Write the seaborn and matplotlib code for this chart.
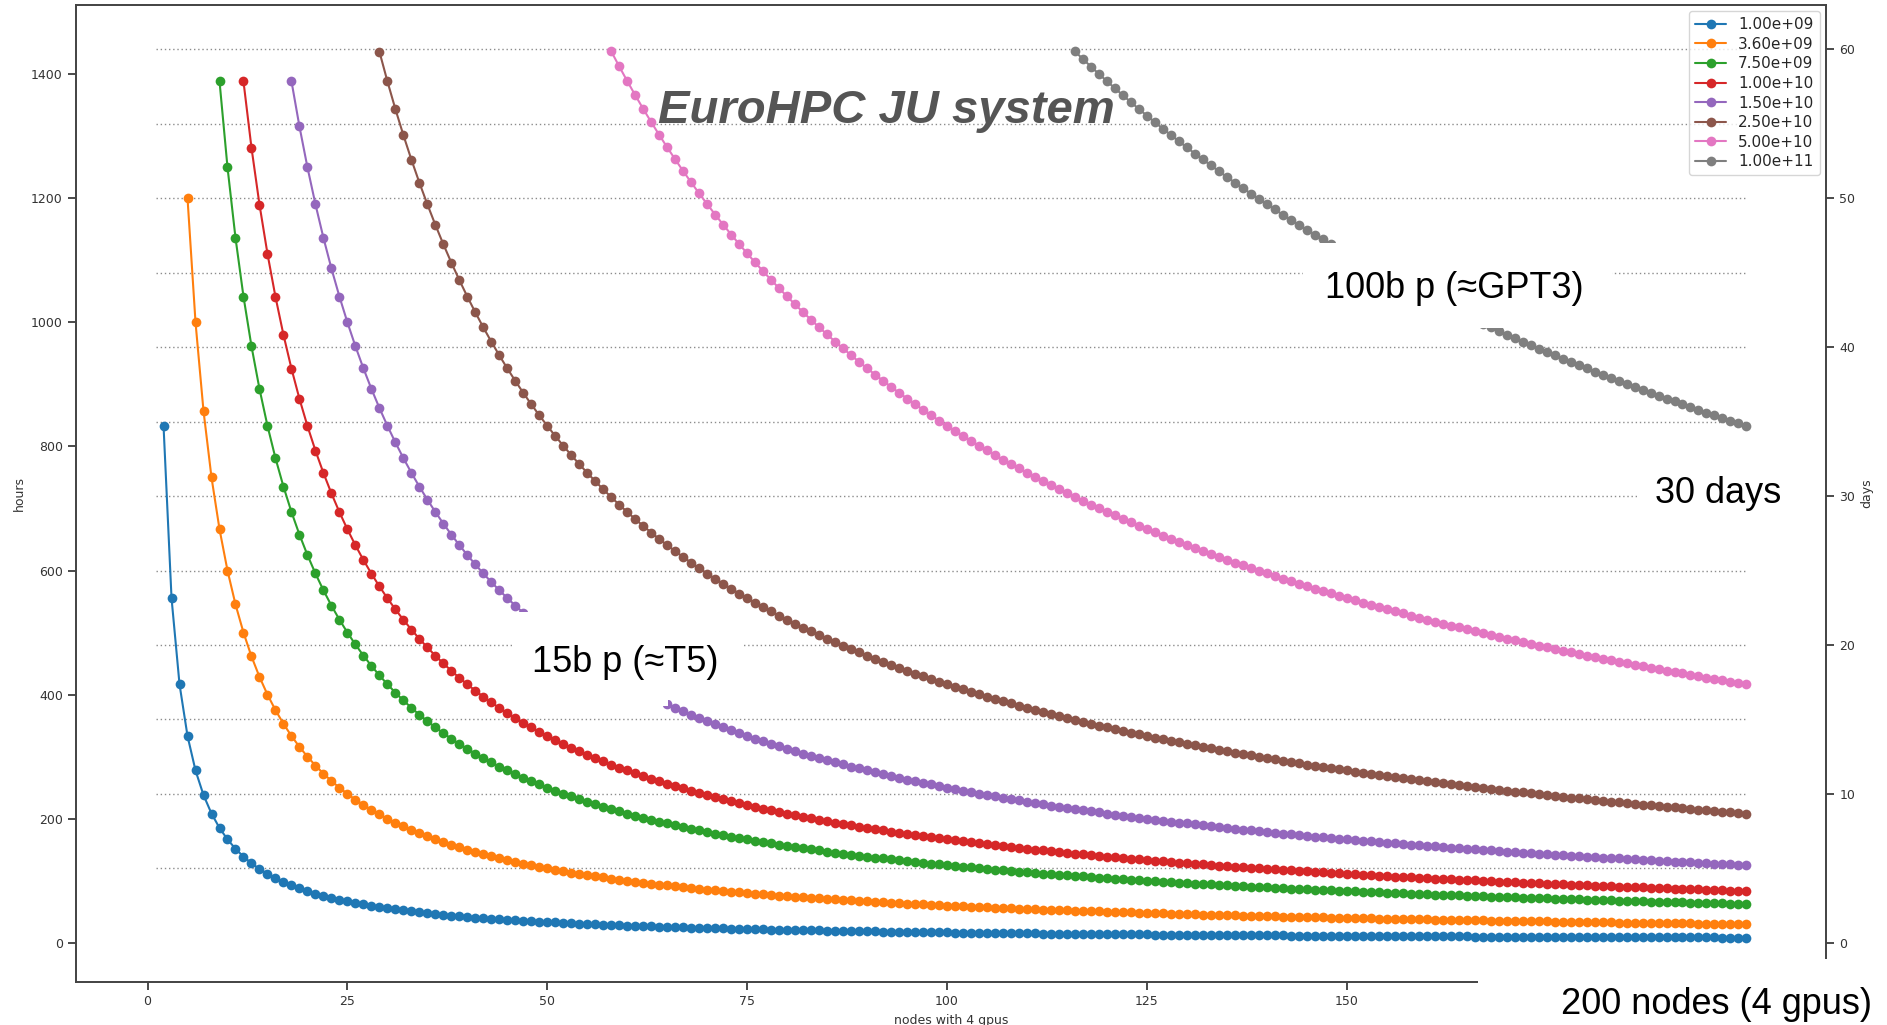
import matplotlib
matplotlib.use("Agg")
import matplotlib.pyplot as plt
from matplotlib.patches import Rectangle
import numpy as np
import pandas as pd
import seaborn as sns

# --- data ---
# model sizes (legend) and training hours read at 200 nodes for each curve
param_labels = ["1.00e+09", "3.60e+09", "7.50e+09", "1.00e+10",
                "1.50e+10", "2.50e+10", "5.00e+10", "1.00e+11"]
hours_at_200_nodes = [8.33, 30.0, 62.5, 83.3, 125.0, 208.3, 416.7, 833.3]
nodes = np.arange(1, 201)           # nodes with 4 gpus each
max_hours = 1440                    # curves are cut at 60 days
day_marks = [5, 10, 15, 20, 25, 30, 35, 40, 45, 50, 55, 60]
day_ticks = [0, 10, 20, 30, 40, 50, 60]
x_ticks = [0, 25, 50, 75, 100, 125, 150]
hour_ticks = [0, 200, 400, 600, 800, 1000, 1200, 1400]

# --- long-form table: hours scale as 1/nodes ---
rows = []
for lab, h200 in zip(param_labels, hours_at_200_nodes):
    hrs = h200 * 200 / nodes
    keep = hrs <= max_hours
    rows.append(pd.DataFrame({"nodes": nodes[keep], "hours": hrs[keep], "params": lab}))
df = pd.concat(rows, ignore_index=True)

sns.set_theme(style="ticks")
plt.rcParams["font.family"] = ["DejaVu Sans"]

W, H = 1887, 1025
fig = plt.figure(figsize=(W / 100, H / 100), dpi=100)
ax = fig.add_axes([76 / W, 1 - 982 / H, 1750 / W, 977 / H])

# dotted guide lines every 5 days
ax.hlines([d * 24 for d in day_marks], nodes[0], nodes[-1],
          colors="#8c8c8c", linestyles=(0, (1, 2)), linewidth=1.0, zorder=1)

sns.lineplot(
    data=df, x="nodes", y="hours", hue="params",
    hue_order=param_labels, palette="tab10",
    marker="o", markersize=7, markeredgewidth=0,
    linewidth=1.5, errorbar=None, ax=ax, zorder=2,
)

for s in ax.spines.values():
    s.set_color("#444444")
ax.tick_params(labelsize=9, colors="#333333")
ax.set_xlabel("nodes with 4 gpus", fontsize=9, color="#333333")
ax.set_ylabel("hours", fontsize=9, color="#333333")
ax.set_xticks(x_ticks)
ax.set_yticks(hour_ticks)

leg = ax.legend(loc="upper right", fontsize=11, labelspacing=0.3,
                title=None, frameon=True, borderaxespad=0.4)
leg.get_frame().set_edgecolor("#cccccc")

ax2 = ax.twinx()
lo, hi = ax.get_ylim()
ax2.set_ylim(lo / 24, hi / 24)
ax2.set_yticks(day_ticks)
ax2.set_ylabel("days", fontsize=9, color="#333333")
ax2.tick_params(labelsize=9, colors="#333333")
for s in ax2.spines.values():
    s.set_color("#444444")


def px(x, y):
    return x / W, 1 - y / H


def white_box(x0, y0, x1, y1):
    fig.patches.append(Rectangle(px(x0, y1), (x1 - x0) / W, (y1 - y0) / H,
                                 transform=fig.transFigure, facecolor="white",
                                 edgecolor="none", zorder=5))


fam = ["Liberation Sans", "DejaVu Sans"]

fig.text(*px(658, 123), "EuroHPC JU system", fontsize=34, fontweight="bold",
         fontstyle="italic", color="#555555", family=fam, va="baseline", zorder=6)

white_box(1303, 243, 1612, 328)
fig.text(*px(1325, 298), "100b p (\u2248GPT3)", fontsize=26, color="black",
         family=fam, va="baseline", zorder=6)

white_box(1637, 463, 1812, 523)
fig.text(*px(1655, 503), "30 days", fontsize=26, color="black",
         family=fam, va="baseline", zorder=6)

white_box(512, 612, 668, 706)
white_box(512, 612, 743, 700)
fig.text(*px(532, 672), "15b p (\u2248T5)", fontsize=26, color="black",
         family=fam, va="baseline", zorder=6)

white_box(1478, 959, 1887, 1025)
fig.text(*px(1561, 1014), "200 nodes (4 gpus)", fontsize=26, color="black",
         family=fam, va="baseline", zorder=6)

fig.savefig("out.png", dpi=100)
